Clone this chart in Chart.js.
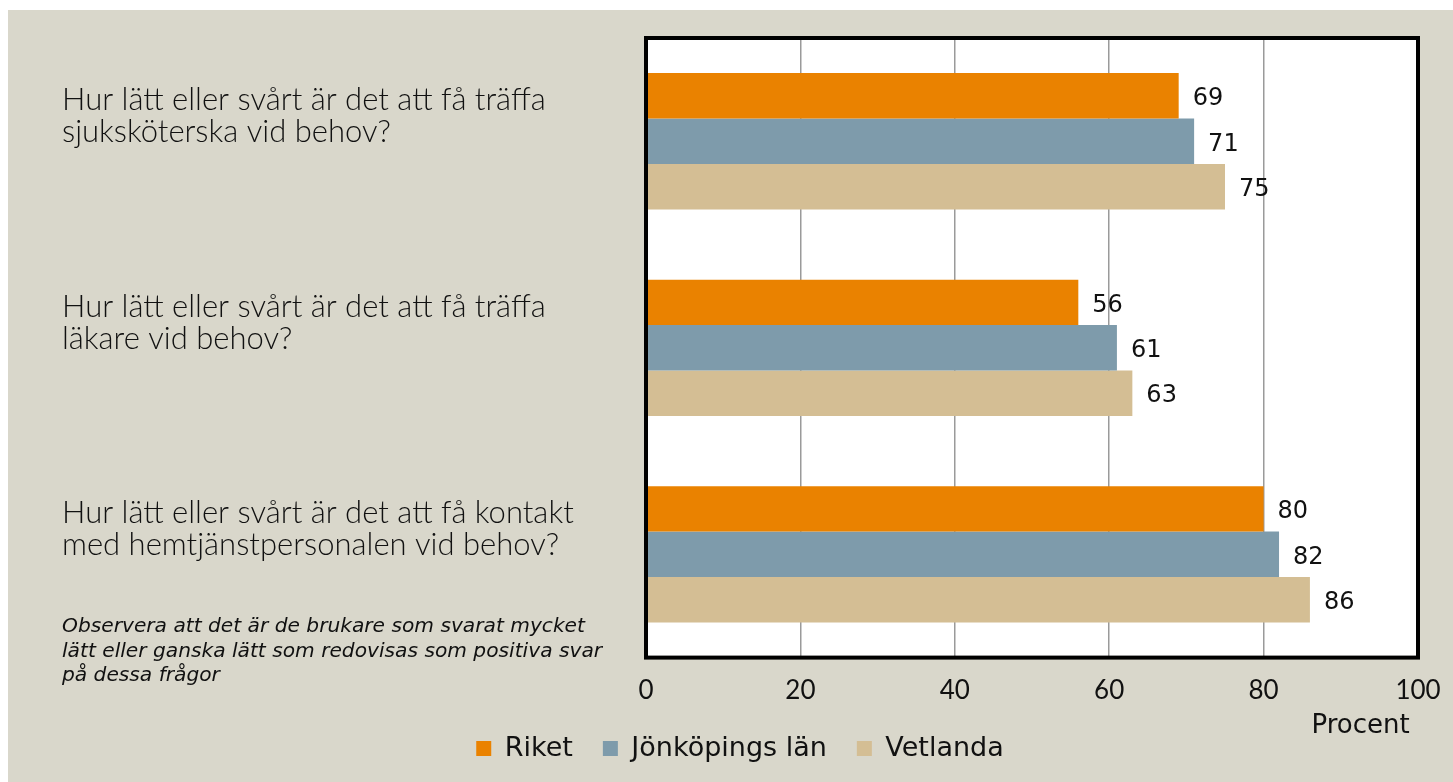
<!DOCTYPE html>
<html>
<head>
<meta charset="utf-8">
<script src="https://cdn.jsdelivr.net/npm/chart.js@4.4.1/dist/chart.umd.min.js"></script>
<style>
  html, body { margin: 0; padding: 0; background: #ffffff; }
  #wrap { position: absolute; left: 8px; top: 10px; width: 1445px; height: 772px; background: #d9d7cb; }
  #note { position: absolute; left: 62px; top: 613px; font: italic 20.2px "DejaVu Sans", sans-serif; line-height: 24.5px; color: #111; width: 600px; }
</style>
</head>
<body>
<div id="wrap"><canvas id="chart"></canvas></div>
<div id="note">Observera att det är de brukare som svarat mycket<br>lätt eller ganska lätt som redovisas som positiva svar<br>på dessa frågor</div>
<script>
"use strict";
const categories = [
    ["Hur lätt eller svårt är det att få träffa", "sjuksköterska vid behov?"],
    ["Hur lätt eller svårt är det att få träffa", "läkare vid behov?"],
    ["Hur lätt eller svårt är det att få kontakt", "med hemtjänstpersonalen vid behov?"],
];
const seriesNames = ["Riket", "Jönköpings län", "Vetlanda"];
const riket = [69, 56, 80];
const jonkoping = [71, 61, 82];
const vetlanda = [75, 63, 86];
const xTicks = [0, 20, 40, 60, 80, 100];
const colors = ["#ea8200", "#7e9bab", "#d4be94"];

const narrowFont = "Lato, 'Noto Sans', sans-serif";
const wideFont = "'DejaVu Sans', sans-serif";

// white plot area under the grid, thick black frame on top
const frame = {
    id: "frame",
    beforeDraw(chart) {
        const a = chart.chartArea;
        const ctx = chart.ctx;
        ctx.save();
        ctx.fillStyle = "#ffffff";
        ctx.fillRect(a.left, a.top, a.right - a.left, a.bottom - a.top);
        ctx.restore();
    },
    afterDraw(chart) {
        const a = chart.chartArea;
        const ctx = chart.ctx;
        ctx.save();
        ctx.strokeStyle = "#000000";
        ctx.lineWidth = 4;
        ctx.strokeRect(a.left, a.top, a.right - a.left, a.bottom - a.top);
        ctx.restore();
    },
};

const valueLabels = {
    id: "valueLabels",
    afterDatasetsDraw(chart) {
        const ctx = chart.ctx;
        ctx.save();
        ctx.font = "24px " + wideFont;
        ctx.fillStyle = "#111111";
        ctx.textBaseline = "middle";
        chart.data.datasets.forEach((ds, i) => {
            chart.getDatasetMeta(i).data.forEach((bar, j) => {
                ctx.fillText(ds.data[j], bar.x + 14, bar.y + 3);
            });
        });
        ctx.restore();
    },
};

new Chart(document.getElementById("chart"), {
    type: "bar",
    data: {
        labels: categories,
        datasets: seriesNames.map((name, i) => ({
            label: name,
            data: [riket, jonkoping, vetlanda][i],
            backgroundColor: colors[i],
            categoryPercentage: 0.66,
            barPercentage: 1.0,
        })),
    },
    options: {
        indexAxis: "y",
        responsive: true,
        maintainAspectRatio: false,
        animation: false,
        layout: { padding: { left: 54, top: 28, right: 35, bottom: 10 } },
        scales: {
            x: {
                min: 0,
                max: 100,
                afterBuildTicks(scale) {
                    scale.ticks = xTicks.map((v) => ({ value: v }));
                },
                afterFit(scale) {
                    scale.paddingLeft = 0;
                    scale.paddingRight = 0;
                },
                grid: { color: "#9a9a9a", lineWidth: 1.5, drawTicks: false },
                border: { display: false },
                ticks: { color: "#111", font: { size: 26, family: narrowFont }, padding: 17 },
                title: {
                    display: true,
                    text: "Procent ",
                    align: "end",
                    color: "#111",
                    font: { size: 26, family: wideFont },
                    padding: { top: -12, bottom: -37 },
                },
            },
            y: {
                grid: { display: false },
                border: { display: false },
                afterFit(scale) {
                    scale.width = 584;
                    scale.paddingTop = 0;
                    scale.paddingBottom = 0;
                },
                ticks: {
                    crossAlign: "far",
                    labelOffset: -25,
                    color: "#111",
                    font: { size: 31, family: narrowFont, weight: "300", lineHeight: 1.04 },
                },
            },
        },
        plugins: {
            legend: {
                position: "bottom",
                labels: {
                    boxWidth: 15,
                    boxHeight: 15,
                    padding: 30,
                    color: "#111",
                    font: { size: 27, family: wideFont },
                },
            },
            tooltip: { enabled: false },
        },
    },
    plugins: [frame, valueLabels],
});
</script>
</body>
</html>
